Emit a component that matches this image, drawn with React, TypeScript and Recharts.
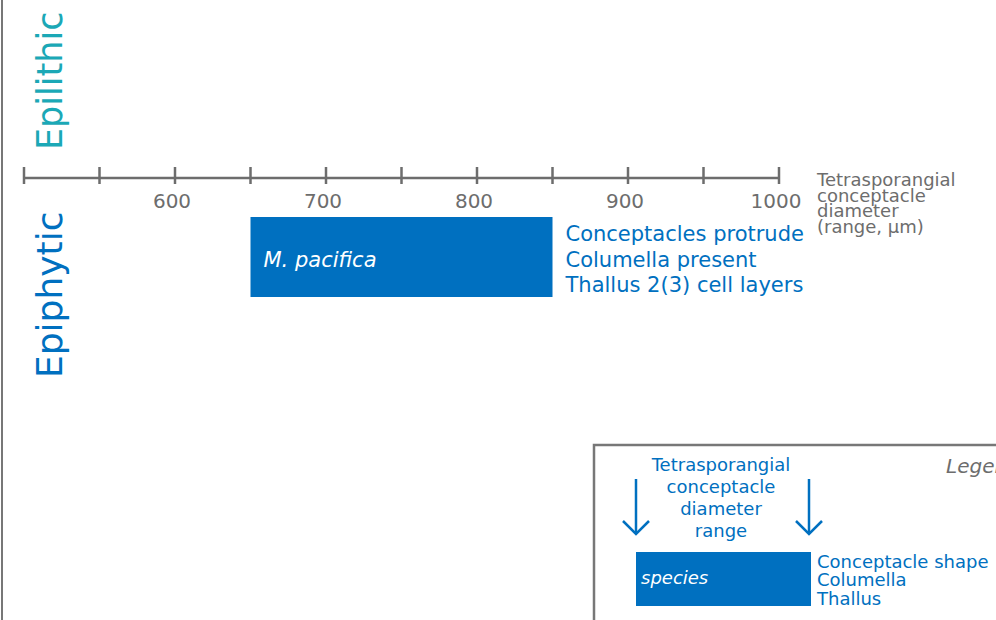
import React from 'react';
import { BarChart, Bar, XAxis, YAxis, LabelList, Customized } from 'recharts';

const FONT = '"DejaVu Sans", Verdana, sans-serif';
const BLUE = '#0070c0';
const TEAL = '#1ba8b6';
const GREY = '#6d6d6d';

// data
const species = ['M. pacifica'];
const diameterMin = [650];
const diameterMax = [850];
const traits = [['Conceptacles protrude', 'Columella present', 'Thallus 2(3) cell layers']];
const axisTicks = [500, 550, 600, 650, 700, 750, 800, 850, 900, 950, 1000];
const labelledTicks = [600, 700, 800, 900, 1000];
const axisTitle = ['Tetrasporangial', 'conceptacle', 'diameter', '(range, \u00b5m)'];
const zones = ['Epilithic', 'Epiphytic'];
const legendTitle = ['Tetrasporangial', 'conceptacle', 'diameter', 'range'];
const legendTraits = ['Conceptacle shape', 'Columella', 'Thallus'];

const data = species.map((s, i) => ({
  species: s,
  range: [diameterMin[i], diameterMax[i]],
  traits: traits[i],
}));

const renderTick = (props: any) => {
  const { x, y, payload } = props;
  const v = payload.value;
  return (
    <g>
      <line x1={x} x2={x} y1={y - 11} y2={y + 6} stroke={GREY} strokeWidth={2.5} />
      {labelledTicks.includes(v) && (
        <text x={x - 3} y={y + 30} textAnchor="middle" fill={GREY} fontSize={20} fontFamily={FONT}>
          {v}
        </text>
      )}
    </g>
  );
};

const renderBarLabels = (props: any) => {
  const { x, y, width, height, index } = props;
  const cy = y + height / 2;
  const lines = data[index].traits;
  return (
    <g fontFamily={FONT}>
      <text x={x + 13} y={cy + 10} fill="#fff" fontSize={21} fontStyle="italic">
        {data[index].species}
      </text>
      {lines.map((t, i) => (
        <text key={t} x={x + width + 13} y={cy - 16 + i * 25.5} fill={BLUE} fontSize={21}>
          {t}
        </text>
      ))}
    </g>
  );
};

const Extras = () => (
  <g fontFamily={FONT}>
    <line x1={2} x2={2} y1={0} y2={620} stroke="#777" strokeWidth={2} />
    <text transform="translate(62,150) rotate(-90)" fill={TEAL} fontSize={35}>{zones[0]}</text>
    <text transform="translate(62,378) rotate(-90)" fill={BLUE} fontSize={36}>{zones[1]}</text>
    <text x={817} y={186} fill={GREY} fontSize={18}>
      {axisTitle.map((t, i) => (
        <tspan key={t} x={817} dy={i === 0 ? 0 : 15.5}>{t}</tspan>
      ))}
    </text>

    {/* legend */}
    <rect x={594} y={445} width={420} height={200} fill="none" stroke="#777" strokeWidth={2.5} />
    <text x={946} y={473} fill={GREY} fontSize={20} fontStyle="italic">Legend</text>
    <text x={721} y={471} fill={BLUE} fontSize={18} textAnchor="middle">
      {legendTitle.map((t, i) => (
        <tspan key={t} x={721} dy={i === 0 ? 0 : 22}>{t}</tspan>
      ))}
    </text>
    {[636, 809].map((ax) => (
      <g key={ax} stroke={BLUE} strokeWidth={2.5} fill="none">
        <line x1={ax} x2={ax} y1={479} y2={533} />
        <polyline points={`${ax - 13},${521} ${ax},${534} ${ax + 13},${521}`} />
      </g>
    ))}
    <rect x={636} y={552} width={175} height={54} fill={BLUE} />
    <text x={641} y={584} fill="#fff" fontSize={18} fontStyle="italic">species</text>
    <text x={817} y={568} fill={BLUE} fontSize={18}>
      {legendTraits.map((t, i) => (
        <tspan key={t} x={817} dy={i === 0 ? 0 : 18.3}>{t}</tspan>
      ))}
    </text>
  </g>
);

const App: React.FC = () => {
  return (
    <div style={{ position: 'absolute', left: 0, top: 0, width: 996, height: 620, background: '#fff', fontFamily: FONT }}>
      <BarChart
        width={996}
        height={620}
        data={data}
        layout="vertical"
        margin={{ top: 148, right: 217, bottom: 284, left: 24 }}
        barCategoryGap={0}
      >
        <XAxis
          type="number"
          orientation="top"
          domain={[500, 1000]}
          ticks={axisTicks}
          interval={0}
          height={30}
          tickSize={0}
          tickMargin={0}
          axisLine={{ stroke: GREY, strokeWidth: 2.5 }}
          tickLine={false}
          tick={renderTick}
        />
        <YAxis type="category" dataKey="species" hide />
        <Bar dataKey="range" fill={BLUE} barSize={80} isAnimationActive={false}>
          <LabelList dataKey="species" content={renderBarLabels} />
        </Bar>
        <Customized component={Extras} />
      </BarChart>
    </div>
  );
};

export default App;
